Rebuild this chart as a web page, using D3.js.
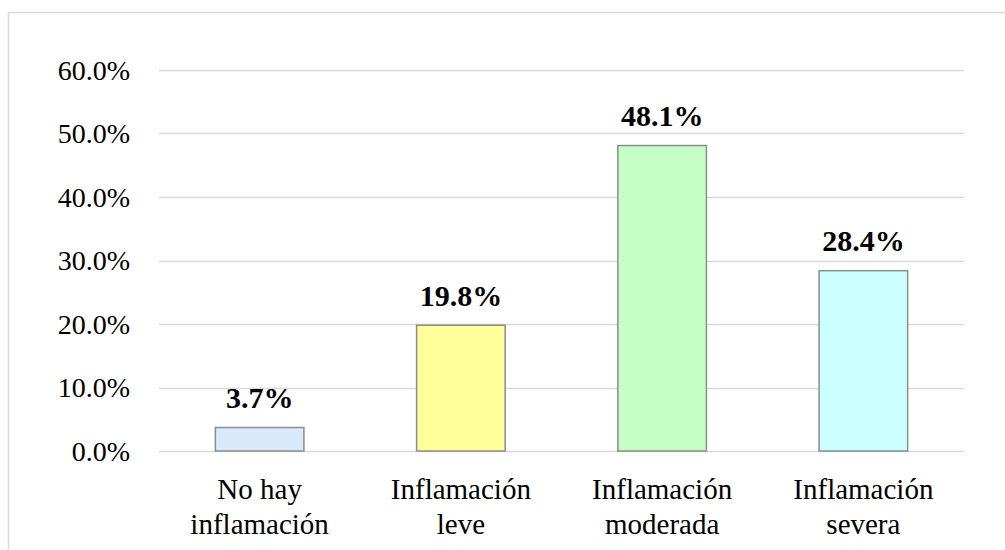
<!DOCTYPE html>
<html>
<head>
<meta charset="utf-8">
<script src="https://cdn.jsdelivr.net/npm/d3@7"></script>
<style>
  svg text { font-family: "Liberation Serif", "Times New Roman", serif !important; }
</style>
</head>
<body style="margin:0">
<script>
// categories and values (percent)
var categories = [["No hay", "inflamación"], ["Inflamación", "leve"], ["Inflamación", "moderada"], ["Inflamación", "severa"]];
var values = [3.7, 19.8, 48.1, 28.4];
var colors = ["#dae8fc", "#ffff99", "#c6ffc6", "#ccffff"];
var yTicks = [0, 10, 20, 30, 40, 50, 60];

var width = 1005, height = 550;
var margin = {top: 70, right: 41, bottom: 99, left: 159};

var svg = d3.select("body").append("svg")
  .attr("width", width)
  .attr("height", height)
  .attr("font-family", "Liberation Serif, Times New Roman, serif")
  .style("display", "block");

// outer chart border
svg.append("rect")
  .attr("x", 8.5).attr("y", 12.5)
  .attr("width", 1010).attr("height", 560)
  .attr("fill", "none")
  .attr("stroke", "#d9d9d9")
  .attr("stroke-width", 1.5);

var x = d3.scaleBand()
  .domain(d3.range(categories.length))
  .range([margin.left, width - margin.right])
  .paddingInner(0.56)
  .paddingOuter(0.28);

var y = d3.scaleLinear()
  .domain([0, 60])
  .range([height - margin.bottom, margin.top]);

// gridlines
svg.append("g")
  .selectAll("line")
  .data(yTicks)
  .enter().append("line")
    .attr("x1", margin.left)
    .attr("x2", width - margin.right)
    .attr("y1", function(d){ return Math.round(y(d)) + 0.5 })
    .attr("y2", function(d){ return Math.round(y(d)) + 0.5 })
    .attr("stroke", "#d9d9d9")
    .attr("stroke-width", 1.3);

// y tick labels
svg.append("g")
  .selectAll("text")
  .data(yTicks)
  .enter().append("text")
    .attr("x", 130)
    .attr("y", function(d){ return y(d) + 9.5 })
    .attr("text-anchor", "end")
    .attr("font-size", 28)
    .attr("fill", "#000")
    .text(function(d){ return d.toFixed(1) + "%" });

// bars
svg.append("g")
  .selectAll("rect")
  .data(values)
  .enter().append("rect")
    .attr("x", function(d, i){ return x(i) })
    .attr("y", function(d){ return y(d) })
    .attr("width", x.bandwidth())
    .attr("height", function(d){ return y(0) - y(d) })
    .attr("fill", function(d, i){ return colors[i] })
    .attr("stroke", "#8c8c8c")
    .attr("stroke-width", 1.5);

// value labels
svg.append("g")
  .selectAll("text")
  .data(values)
  .enter().append("text")
    .attr("x", function(d, i){ return x(i) + x.bandwidth() / 2 })
    .attr("y", function(d){ return y(d) - 19.5 })
    .attr("text-anchor", "middle")
    .attr("font-size", 30)
    .attr("font-weight", "bold")
    .text(function(d){ return d.toFixed(1) + "%" });

// category labels, one text per line
categories.forEach(function(lines, i){
  svg.append("g")
    .selectAll("text")
    .data(lines)
    .enter().append("text")
      .attr("x", x(i) + x.bandwidth() / 2)
      .attr("y", function(d, j){ return 499 + j * 35 })
      .attr("text-anchor", "middle")
      .attr("font-size", 29)
      .text(function(d){ return d });
});
</script>
</body>
</html>
